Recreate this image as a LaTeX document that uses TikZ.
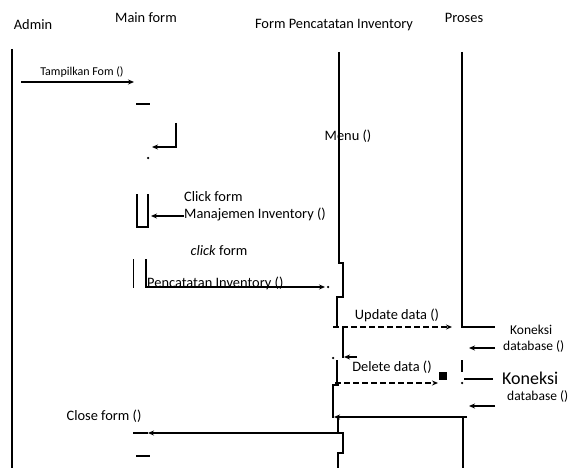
\documentclass[tikz,border=0pt]{standalone}
\usepackage{fontspec}
\setmainfont{Carlito}
\usetikzlibrary{arrows.meta}
\usetikzlibrary{positioning}

\begin{document}
\begin{tikzpicture}[x=1pt,y=-1pt,font=\fontsize{14.4}{17}\selectfont,
                txt/.style={inner sep=0pt},
                small/.style={inner sep=0pt,font=\fontsize{12}{13}\selectfont},
                side/.style={inner sep=0pt,font=\fontsize{13.5}{15}\selectfont},
                lifeline/.style={draw,line width=2pt},
                arrow/.style={draw,line width=1.6pt,-{Stealth[length=6pt,width=5pt]}},
                dasharrow/.style={arrow,dash pattern=on 6pt off 3pt},
                bar/.style={draw,line width=1.8pt},
                speck/.style={fill,circle,inner sep=0pt,minimum size=2.5pt}
            ]
            \useasboundingbox (0,0) rectangle (575,468);
            % headers
            \node[txt](admin) at (33,25){Admin};
            \node[txt](mainform) at (146,18){Main form};
            \node[txt](formpi) at (334,25){Form Pencatatan Inventory};
            \node[txt](proses) at (464,18){Proses};
            % lifelines
            \coordinate (admintop) at (12,49);
            \coordinate (adminbot) at (12,468);
            \path[lifeline] (admintop) -- (adminbot);
            \coordinate (fptop) at (339,52);
            \path[lifeline] (fptop) -- (339,263) -- (343,263) -- (343,297) -- (337,297) -- (337,327);
            \path[lifeline] (343,327) -- (343,358);
            \path[lifeline] (337,360) -- (337,385);
            \path[lifeline] (339,385) -- (333,385) -- (333,418);
            \path[lifeline] (338,417) -- (338,433) -- (343,433) -- (343,453) -- (338,453) -- (338,468);
            \coordinate (prtop) at (462,52);
            \coordinate (prjoin) at (462,327);
            \coordinate (prout) at (495,327);
            \path[lifeline] (prtop) -- (prjoin) -- (prout);
            \path[lifeline] (462,360) -- (462,372);
            \path[lifeline] (463,417) -- (463,468);
            % tampilkan form
            \coordinate (tf1) at (21,82);
            \coordinate (tf2) at (134,82);
            \path[arrow] (tf1) -- (tf2);
            \node[small](tampil) at (82,72){Tampilkan Fom ()};
            \path[bar] (136,104) -- (150,104);
            % menu
            \coordinate (mn1) at (176,123);
            \coordinate (mn2) at (152,147);
            \path[arrow] (mn1) |- (mn2);
            \node[speck](sp1) at (148,158){};
            \node[txt](menu) at (348,136){Menu ()};
            % click form manajemen
            \path[bar] (137,194) -- (137,227) -- (148,227) -- (148,194);
            \node[txt, anchor=west, align=left](clickmi) at (184,206){Click form\\Manajemen Inventory ()};
            \coordinate (cm1) at (clickmi.west |- 0,216);
            \coordinate (cm2) at (151,216);
            \path[arrow] (cm1) -- (cm2);
            % click form pencatatan
            \node[txt](clickpi) at (219,251){\textit{click} form};
            \path[draw,line width=1pt] (133,259) -- (133,288);
            \path[bar] (146,259) -- (146,288);
            \node[txt, anchor=base west](pencatatan) at (147,287){Pencatatan Inventory ()};
            \coordinate (cp1) at (146,287);
            \coordinate (cp2) at (325,287);
            \path[arrow] (cp1) -- (cp2);
            \node[speck](sp2) at (328,287){};
            % update data
            \node[txt](update) at (397,315){Update data ()};
            \coordinate (ud1) at (333,327);
            \coordinate (ud2) at (452,327);
            \path[dasharrow] (ud1) -- (ud2);
            \node[side, anchor=west](kon1) at (510,330){Koneksi};
            \node[side, anchor=west](db1) at (503,346){database ()};
            \coordinate (db1a) at (495,348);
            \coordinate (db1b) at (469,348);
            \path[arrow] (db1a) -- (db1b);
            \coordinate (rt1) at (357,357);
            \coordinate (rt2) at (344,357);
            \path[arrow] (rt1) -- (rt2);
            \node[speck](sp3) at (333,358){};
            % delete data
            \node[txt](delete) at (392,367){Delete data ()};
            \coordinate (dd1) at (335,383);
            \coordinate (dd2) at (438,383);
            \path[dasharrow] (dd1) -- (dd2);
            \fill (439,372) rectangle (447,380);
            \node[speck](sp4) at (462,383){};
            \coordinate (kn2a) at (464,379);
            \coordinate (kn2b) at (493,379);
            \path[draw,line width=1.4pt] (kn2a) -- (kn2b);
            \node[txt, anchor=west, font=\fontsize{18}{20}\selectfont](kon2) at (502,378){Koneksi};
            \node[side, anchor=west](db2) at (507,396){database ()};
            \coordinate (db2a) at (495,406);
            \coordinate (db2b) at (469,406);
            \path[arrow] (db2a) -- (db2b);
            \coordinate (bx1) at (467,417);
            \coordinate (bx2) at (334,417);
            \path[arrow] (bx1) -- (bx2);
            % close form
            \node[txt](close) at (104,416){Close form ()};
            \coordinate (cf1) at (338,433);
            \coordinate (cf2) at (148,433);
            \coordinate (cf3) at (133,433);
            \path[arrow] (cf1) -- (cf2);
            \path[bar] (cf2) -- (cf3);
            \path[bar] (136,456) -- (150,456);
        \end{tikzpicture}
\end{document}
